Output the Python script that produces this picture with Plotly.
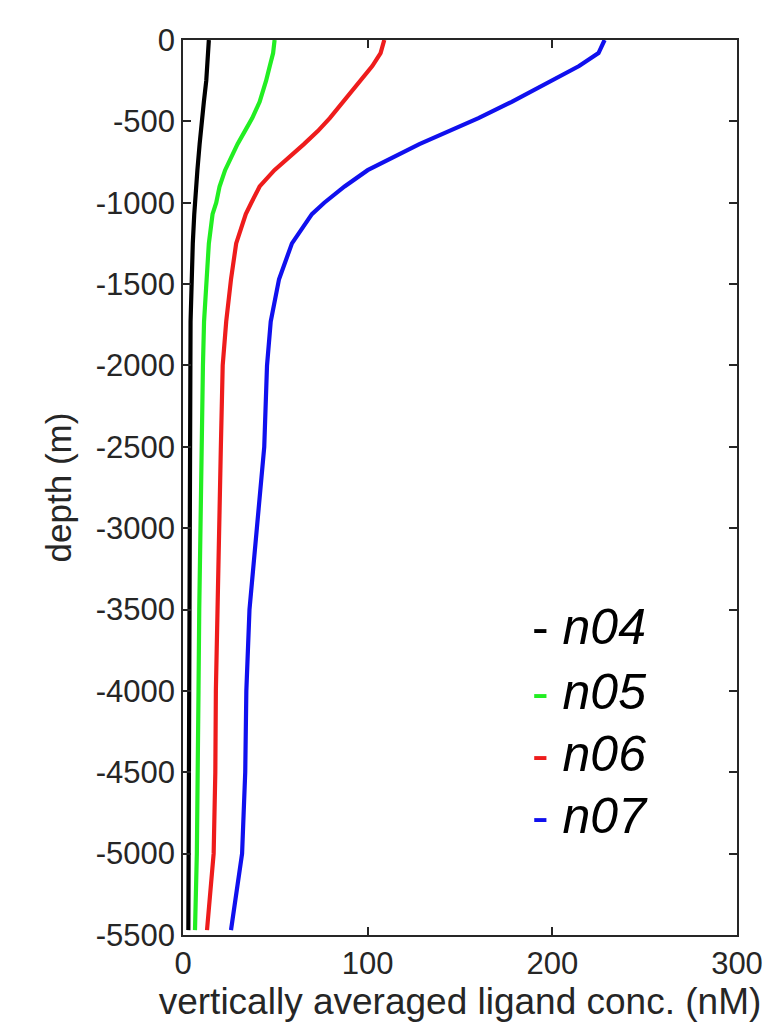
import plotly.graph_objects as go

depth = [0, -80, -160, -250, -380, -480, -560, -640, -800, -900, -1000, -1070,
         -1250, -1470, -1730, -2000, -2500, -3000, -3500, -4000, -4500, -5000, -5470]
n04 = [14, 13.6, 13.2, 12.6, 11.3, 10.2, 9.6, 9.0, 7.8, 7.1, 6.4, 6.1,
       5.3, 4.7, 4.1, 4.0, 3.8, 3.6, 3.4, 3.3, 3.2, 3.0, 2.9]
n05 = [49.6, 48.8, 47, 45, 41.5, 37.5, 33.5, 29.5, 22.8, 19.8, 18, 16,
       14, 12.8, 11.4, 10.8, 10, 9.3, 8.8, 8.4, 8, 7.5, 6.5]
n06 = [109, 107, 102.5, 96, 87, 79.5, 73, 65.5, 49.5, 41.5, 37, 34,
       28.8, 26, 23.4, 21.5, 20.5, 19.5, 18.3, 17.8, 17.5, 16.6, 13]
n07 = [228.3, 225, 214.5, 200, 178, 160, 144, 128, 100, 87.5, 76.5, 69.8,
       59, 52, 47.5, 45.5, 44, 40, 36, 34.3, 33.7, 32, 26]

series_names = ["n04", "n05", "n06", "n07"]
series_values = [n04, n05, n06, n07]
colors = ["#000000", "#22ee22", "#ee1c1c", "#1010ee"]

x_ticks = [0, 100, 200, 300]
x_ticktext = ["0", "100", "200", "300"]
y_ticks = list(range(-5500, 1, 500))
y_ticktext = ["-5500", "-5000", "-4500", "-4000", "-3500", "-3000", "-2500",
              "-2000", "-1500", "-1000", "-500", "0"]

FONT = "Liberation Sans, Arial, Helvetica"

fig = go.Figure()
for name, vals, c in zip(series_names, series_values, colors):
    fig.add_trace(go.Scatter(x=vals, y=depth, mode="lines", name=name,
                             line=dict(color=c, width=4.2), showlegend=False))

legend_y = [-3610, -4005, -4385, -4770]
for name, c, ly in zip(series_names, colors, legend_y):
    fig.add_annotation(x=188, y=ly, xref="x", yref="y", xanchor="left", yanchor="middle",
                       showarrow=False,
                       text=f"<span style='color:{c}'>-</span> <i>{name}</i>",
                       font=dict(family=FONT, size=50, color="#000000"))

axis_common = dict(
    showline=True, linecolor="#262626", linewidth=1.5, mirror="ticks",
    ticks="inside", ticklen=8, tickwidth=1.5, tickcolor="#262626",
    showgrid=False, zeroline=False,
    tickfont=dict(family=FONT, size=31, color="#262626"),
)

fig.update_layout(
    width=775, height=1026,
    margin=dict(l=183, r=32, t=40, b=91),
    paper_bgcolor="white", plot_bgcolor="white",
    xaxis=dict(range=[0, 300], tickvals=x_ticks, ticktext=x_ticktext,
               title=dict(text="vertically averaged ligand conc. (nM)", standoff=3,
                          font=dict(family=FONT, size=37, color="#262626")),
               **axis_common),
    yaxis=dict(range=[-5500, 0], tickvals=y_ticks, ticktext=y_ticktext,
               title=dict(text="depth (m)", standoff=14,
                          font=dict(family=FONT, size=35, color="#262626")),
               **axis_common),
)

fig.write_html("out.html", config={"displayModeBar": False},
               post_script="document.body.style.margin='0';document.body.style.overflow='hidden';")
